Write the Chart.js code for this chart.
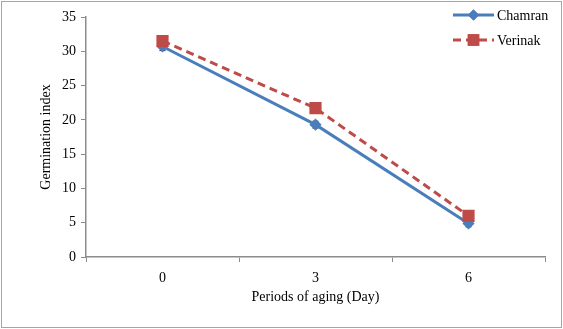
<!DOCTYPE html>
<html>
<head>
<meta charset="utf-8">
<script src="https://cdn.jsdelivr.net/npm/chart.js@4"></script>
<style>
  body { margin: 0; background: #fff; }
  canvas { display: block; }
</style>
</head>
<body>
<canvas id="agingChart" width="563" height="329"></canvas>
<script>
// values
const periods = ["0", "3", "6"];
const chamran = [30.7, 19.3, 4.9];
const chamranErr = [0.6, 0.5, 0.5];
const verinak = [31.5, 21.7, 6.0];
const verinakErr = [0.4, 0.4, 0.4];
const yTicks = [0, 5, 10, 15, 20, 25, 30, 35];

const serif = "'Liberation Serif', 'Times New Roman', serif";

// draws the error bars under the markers
const errorBars = {
    id: "errorBars",
    beforeDatasetsDraw(chart) {
        const ctx = chart.ctx;
        const y = chart.scales.y;
        const errs = [chamranErr, verinakErr];
        ctx.save();
        ctx.strokeStyle = "#1a1a1a";
        ctx.lineWidth = 1;
        chart.data.datasets.forEach((ds, i) => {
            const meta = chart.getDatasetMeta(i);
            meta.data.forEach((pt, j) => {
                const top = y.getPixelForValue(ds.data[j] + errs[i][j]);
                const bot = y.getPixelForValue(ds.data[j] - errs[i][j]);
                ctx.beginPath();
                ctx.moveTo(pt.x, top); ctx.lineTo(pt.x, bot);
                ctx.moveTo(pt.x - 3, top); ctx.lineTo(pt.x + 3, top);
                ctx.moveTo(pt.x - 3, bot); ctx.lineTo(pt.x + 3, bot);
                ctx.stroke();
            });
        });
        ctx.restore();
    }
};

// legend box in the top right corner, plus the outer frame
const sideLegend = {
    id: "sideLegend",
    afterDraw(chart) {
        const ctx = chart.ctx;
        ctx.save();
        ctx.strokeStyle = "#a6a6a6";
        ctx.lineWidth = 1;
        ctx.strokeRect(1.5, 1.5, chart.width - 3, chart.height - 3);

        const rows = [15, 40];
        chart.data.datasets.forEach((ds, i) => {
            const yy = rows[i];
            ctx.strokeStyle = ds.borderColor;
            ctx.lineWidth = ds.borderWidth;
            ctx.setLineDash(ds.borderDash || []);
            ctx.beginPath();
            ctx.moveTo(453, yy);
            ctx.lineTo(494, yy);
            ctx.stroke();
            ctx.setLineDash([]);
            Chart.helpers.drawPoint(ctx, {
                pointStyle: ds.pointStyle,
                radius: ds.pointRadius - 0.5,
                rotation: 0,
                borderWidth: 1
            }, 473.5, yy);
            ctx.fillStyle = ds.pointBackgroundColor;
            ctx.strokeStyle = ds.pointBorderColor;
            ctx.fill();
            ctx.stroke();
            ctx.fillStyle = "#000";
            ctx.font = "14px " + serif;
            ctx.textBaseline = "middle";
            ctx.fillText(ds.label, 497, yy + 1);
        });
        ctx.restore();
    }
};

new Chart(document.getElementById("agingChart"), {
    type: "line",
    data: {
        labels: periods,
        datasets: [{
            label: "Chamran",
            data: chamran,
            borderColor: "#4a7ebb",
            borderWidth: 3,
            pointStyle: "rectRot",
            pointRadius: 4,
            pointBackgroundColor: "#4a7ebb",
            pointBorderColor: "#4a7ebb",
            order: 2,
            tension: 0
        }, {
            label: "Verinak",
            data: verinak,
            borderColor: "#be4b48",
            borderWidth: 3,
            borderDash: [8, 5],
            pointStyle: "rect",
            pointRadius: 6.5,
            pointBackgroundColor: "#be4b48",
            pointBorderColor: "#be4b48",
            order: 1,
            tension: 0
        }]
    },
    options: {
        responsive: false,
        animation: false,
        layout: { padding: { left: 0, top: 17, right: 18, bottom: 0 } },
        plugins: { legend: { display: false }, tooltip: { enabled: false } },
        scales: {
            x: {
                offset: true,
                afterFit: s => { s.height = 72; },
                grid: { offset: true, drawOnChartArea: false, tickLength: 5, color: "#8c8c8c" },
                border: { color: "#8c8c8c", width: 1.5 },
                ticks: { color: "#000", padding: 8, font: { family: serif, size: 14 } },
                title: {
                    display: true, text: "Periods of aging (Day)", color: "#000",
                    font: { family: serif, size: 14 }, padding: { top: 0, bottom: 23.6 }
                }
            },
            y: {
                min: 0, max: 35,
                afterFit: s => { s.width = 86; },
                afterBuildTicks: s => { s.ticks = yTicks.map(v => ({ value: v })); },
                grid: { drawOnChartArea: false, tickLength: 5, color: "#8c8c8c" },
                border: { color: "#8c8c8c", width: 1.5 },
                ticks: { color: "#000", padding: 5, font: { family: serif, size: 14 } },
                title: {
                    display: true, text: "Germination index", color: "#000",
                    font: { family: serif, size: 14 }, padding: { top: 37.6, bottom: 0 }
                }
            }
        }
    },
    plugins: [errorBars, sideLegend]
});
</script>
</body>
</html>
